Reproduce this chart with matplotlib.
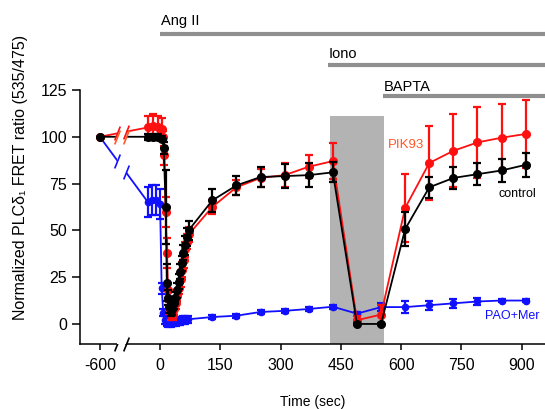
import numpy as np
import matplotlib
matplotlib.use("Agg")
from matplotlib import pyplot as plt
import matplotlib.transforms as mtransforms

plt.rcParams['font.family'] = ['Liberation Sans', 'DejaVu Sans']

# time (sec) and normalized FRET ratio
ctrl_t = [-600, -30, -18, -6, 6, 9, 14, 17, 20, 23, 26, 30, 34, 38, 42, 46, 50, 55, 58, 62, 66, 71,
          130, 190, 250, 310, 370, 430, 490, 550, 610, 670, 730, 790, 850, 910]
ctrl_y = [100, 100, 100, 100, 99, 94, 62.5, 22, 14, 9, 7, 8, 11, 14, 18, 22.5, 28, 32.5, 38, 42, 46.5, 50,
          66, 74, 78.5, 79, 79.5, 81, 0, 0, 50.7, 73, 78, 80, 82, 85]
ctrl_e = [0, 1.5, 1.5, 1.5, 1.5, 3, 20, 10, 4, 3, 3, 3, 3, 3, 4, 4, 4, 4, 4, 5, 5, 5,
          6, 5, 5.5, 6.5, 6.5, 5.3, 0.5, 0.5, 9, 5.5, 6, 6, 6, 6.5]

pik_t = [-600, -30, -18, -6, 4, 8, 11, 14, 17, 20, 23, 27, 31, 35, 39, 43, 47, 51, 55, 59, 63, 67, 72,
         130, 190, 250, 310, 370, 430, 490, 550, 610, 670, 730, 790, 850, 910]
pik_y = [100, 105, 106, 105, 104, 100, 90, 60, 38, 18, 8.5, 5, 5, 8, 11, 15, 19, 24, 29, 34, 40, 44, 48,
         62.5, 73, 78, 79.5, 84, 87, 2, 5, 62, 86, 92.5, 97, 99.5, 101.5]
pik_e = [0, 6, 6, 6, 6, 3, 5, 8, 8, 4, 3, 3, 3, 3, 3, 3, 3, 4, 4, 4, 4, 4, 4,
         3.5, 4, 5, 6.5, 6, 9.7, 2, 5, 18, 20, 19.5, 19, 18, 18]

pao_t = [-600, -30, -20, -10, 0, 4, 8, 12, 16, 20, 24, 28, 32, 36, 40, 45, 50, 56, 62, 70,
         130, 190, 250, 310, 370, 430, 490, 550, 610, 670, 730, 790, 850, 910]
pao_y = [100, 65, 66, 66, 64, 19, 6, 2, 1, 0.5, 1, 0.5, 1, 1.5, 1, 1.5, 1.5, 2, 2, 2.5,
         3.7, 4.4, 6.4, 7, 8, 9.2, 5.5, 9, 9, 10, 11, 12, 12.5, 12.5]
pao_e = [0, 8, 8, 8, 8, 3, 2, 2, 2, 2, 2, 2, 2, 2, 2, 2, 2, 2, 2, 2,
         1, 1, 1, 1, 1, 1, 1, 2, 3, 2.5, 2.5, 2, 1, 1]

xtick_pos = [-150, 0, 150, 300, 450, 600, 750, 900]
xtick_labels = ['-600', '0', '150', '300', '450', '600', '750', '900']
yticks = [0, 25, 50, 75, 100, 125]

# -600 s baseline is drawn closer to zero, behind an axis break
shift = 450
gap = (-106, -85)

def squeeze(t):
    t = np.asarray(t, float)
    return np.where(t < -300, t + shift, t)

fig = plt.figure(figsize=(5.45, 4.09), dpi=100)
ax = fig.add_axes([0.147, 0.159, 0.853, 0.621])
ax.set_xlim(-199, 958)
ax.set_ylim(-10.7, 125)

ax.fill_between([423, 557], -10.7, 111, color='#b3b3b3', lw=0, zorder=0)

series = [
    (pao_t, pao_y, pao_e, '#1010ff', 4.5, 1),
    (pik_t, pik_y, pik_e, '#ff1010', 5.5, 2),
    (ctrl_t, ctrl_y, ctrl_e, 'black', 5.5, 3),
]
for t, y, e, c, ms, z in series:
    x = squeeze(t)
    ax.errorbar(x, y, yerr=e, color=c, marker='o', ms=ms, lw=1.3, elinewidth=1.6,
                capsize=3, capthick=1.6, zorder=z, clip_on=False)

# white gap over the lines at the break
ax.axvspan(gap[0], gap[1], color='white', zorder=4, lw=0)
slash = dict(marker=[(-1, -2.5), (1, 2.5)], markersize=10, linestyle='none', mew=1.2,
             clip_on=False, zorder=5)
for t, y, e, c, ms, z in series:
    x = squeeze(t)
    ys = np.interp(gap, x[:2], y[:2])
    col = '#ff5a2a' if c == 'black' else c
    ax.plot(gap, ys, color=col, mec=col, **slash)

# broken bottom axis
trans = mtransforms.blended_transform_factory(ax.transData, ax.transAxes)
ax.spines['bottom'].set_visible(False)
ax.plot([-199, gap[0]], [0, 0], color='black', lw=1.1, transform=trans, clip_on=False)
ax.plot([gap[1], 958], [0, 0], color='black', lw=1.1, transform=trans, clip_on=False)
ax.plot(gap, [0, 0], color='black', mec='black', transform=trans,
        **{k: v for k, v in slash.items() if k != 'zorder'})

ax.spines['top'].set_visible(False)
ax.spines['right'].set_visible(False)
ax.spines['left'].set_linewidth(1.1)
ax.set_xticks(xtick_pos)
ax.set_xticklabels(xtick_labels)
ax.set_yticks(yticks)
ax.tick_params(axis='y', direction='out', length=6, width=1.1, labelsize=11.5)
ax.tick_params(axis='x', direction='out', length=4, width=1.1, labelsize=11.5, pad=6)

ax.set_xlabel('Time (sec)', fontsize=10, labelpad=16)
ax.set_ylabel('Normalized PLCδ₁ FRET ratio (535/475)', fontsize=11.5)
ax.yaxis.set_label_coords(-0.112, 0.655)

# treatment bars
bar_gray = '#8f8f8f'
treat_names = ['Ang II', 'Iono', 'BAPTA']
treat_start = [0, 418, 555]
treat_bar_y = [155, 138.5, 122]
treat_text_dy = [4.8, 3.7, 2.3]
for name, t0, yb, dy in zip(treat_names, treat_start, treat_bar_y, treat_text_dy):
    ax.plot([t0, 958], [yb, yb], color=bar_gray, lw=3, clip_on=False, solid_capstyle='butt')
    ax.text(t0 + 2, yb + dy, name, fontsize=10.5, ha='left', va='baseline')

ax.text(567, 95.6, 'PIK93', color='#ff5a2a', fontsize=9.5, ha='left', va='center')
ax.text(935, 69.4, 'control', color='black', fontsize=9, ha='right', va='center')
ax.text(945, 4.3, 'PAO+Mer', color='#1010ff', fontsize=9, ha='right', va='center')

fig.savefig('out.png', dpi=100)
